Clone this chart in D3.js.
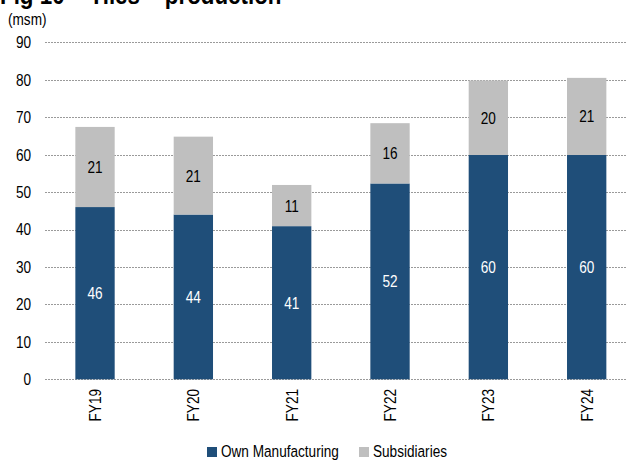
<!DOCTYPE html>
<html><head><meta charset="utf-8">
<script src="https://cdn.jsdelivr.net/npm/d3@7"></script>
<style>
body{margin:0;background:#fff;}
svg{display:block;font-family:"Liberation Sans",Arial,sans-serif;}
</style></head>
<body>
<svg id="chart" width="627" height="461"></svg>
<script>
const categories = ["FY19","FY20","FY21","FY22","FY23","FY24"];
const ownManufacturing = [46, 44, 40.9, 52.3, 59.9, 59.9];
const subsidiaries = [21.4, 20.8, 11, 16.1, 19.9, 20.6];
const yTicks = [0,10,20,30,40,50,60,70,80,90];
const seriesNames = ["Own Manufacturing","Subsidiaries"];
const colors = ["#1F4E79","#BFBFBF"];

const FS = 17, SX = 0.8; // narrow-font emulation
const svg = d3.select("#chart");
const x = d3.scaleBand().domain(categories).range([45.85, 635.85]).paddingInner(0.6).paddingOuter(0.3);
const y = d3.scaleLinear().domain([0,90]).range([379.3, 42.3]);

function narrowText(parent, px, py, str, size) {
  return parent.append("text")
    .attr("transform", `translate(${px},${py}) scale(${SX},1)`)
    .attr("font-size", size).attr("fill", "#000").text(str);
}

// title (cut off at top, as in the reference)
svg.append("text").attr("transform","translate(0,4) scale(0.86,1)").attr("font-size",26)
  .attr("font-weight","bold").attr("fill","#000").text("Fig 10 – Tiles – production");
narrowText(svg, 8, 25, "(msm)", FS);

// gridlines
svg.append("g").selectAll("line").data(yTicks).join("line")
  .attr("x1",45).attr("x2",627).attr("y1",d=>Math.round(y(d))+0.5).attr("y2",d=>Math.round(y(d))+0.5)
  .attr("stroke","#9a9a9a").attr("stroke-width",1).attr("stroke-dasharray","2,1");

// y axis labels
const yAxis = d3.axisLeft(y).tickValues(yTicks).tickSize(0).tickPadding(0).tickFormat(d3.format("d"));
const ya = svg.append("g").attr("transform","translate(31,0)").call(yAxis);
ya.select(".domain").remove();
ya.selectAll("text").attr("font-size",FS).attr("fill","#000").attr("font-family",null)
  .attr("x",0).attr("transform",`scale(${SX},1)`);

// bars
const stacked = categories.map((c,i)=>({c, own: ownManufacturing[i], sub: subsidiaries[i]}));
const g = svg.append("g");
g.selectAll("rect.own").data(stacked).join("rect").attr("class","own")
  .attr("x",d=>x(d.c)).attr("width",x.bandwidth())
  .attr("y",d=>y(d.own)).attr("height",d=>y(0)-y(d.own)).attr("fill",colors[0]);
g.selectAll("rect.sub").data(stacked).join("rect").attr("class","sub")
  .attr("x",d=>x(d.c)).attr("width",x.bandwidth())
  .attr("y",d=>y(d.own+d.sub)).attr("height",d=>y(d.own)-y(d.own+d.sub)).attr("fill",colors[1]);

// value labels
g.selectAll("text.own").data(stacked).join("text").attr("class","own")
  .attr("transform",d=>`translate(${x(d.c)+x.bandwidth()/2},${(y(0)+y(d.own))/2}) scale(${SX},1)`)
  .attr("dy","0.35em").attr("text-anchor","middle").attr("font-size",FS).attr("fill","#fff")
  .text(d=>Math.round(d.own));
g.selectAll("text.sub").data(stacked).join("text").attr("class","sub")
  .attr("transform",d=>`translate(${x(d.c)+x.bandwidth()/2},${(y(d.own)+y(d.own+d.sub))/2}) scale(${SX},1)`)
  .attr("dy","0.35em").attr("text-anchor","middle").attr("font-size",FS).attr("fill","#000")
  .text(d=>Math.round(d.sub));

// x axis labels
const xAxis = d3.axisBottom(x).tickSize(0).tickPadding(0);
const xa = svg.append("g").attr("transform","translate(0,389)").call(xAxis);
xa.select(".domain").remove();
xa.selectAll("text").attr("font-size",FS).attr("fill","#000").attr("font-family",null)
  .attr("transform",`rotate(-90) scale(${SX},1)`).attr("text-anchor","end").attr("x",0).attr("y",0).attr("dy","0.35em");

// legend
const legend = svg.append("g");
const legItems = [{n:seriesNames[0],c:colors[0],x:207},{n:seriesNames[1],c:colors[1],x:359}];
legItems.forEach(it=>{
  legend.append("rect").attr("x",it.x).attr("y",447).attr("width",10).attr("height",10).attr("fill",it.c);
  narrowText(legend, it.x+14, 457, it.n, FS);
});
</script>
</body></html>
